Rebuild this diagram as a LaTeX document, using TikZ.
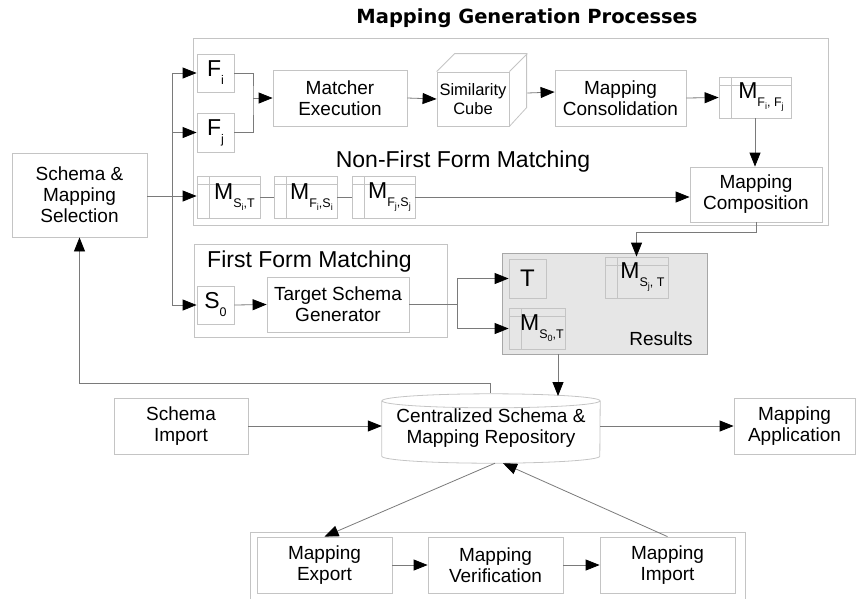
\documentclass[tikz,border=0pt]{standalone}
\usepackage{fontspec}
\setmainfont{Liberation Sans}
\newfontfamily\titlefont{DejaVu Sans}
\usetikzlibrary{arrows.meta}
\definecolor{boxgray}{HTML}{C4C4C4}
\definecolor{linegray}{HTML}{7A7A7A}
\definecolor{resultfill}{HTML}{E6E6E6}
\def\lowsub#1{\raisebox{-8pt}{\fontsize{12.5}{12.5}\selectfont #1}}
\def\lowsubb#1{\raisebox{-3pt}{\fontsize{9}{9}\selectfont #1}}

\begin{document}
\begin{tikzpicture}[x=1pt, y=-1pt,
    box/.style={draw=boxgray, line width=0.8pt, inner sep=0pt, align=center, font=\fontsize{19}{21}\selectfont},
    big/.style={font=\fontsize{23}{25}\selectfont},
    group/.style={draw=boxgray, line width=0.8pt},
    link/.style={draw=linegray, line width=0.8pt},
    arrow/.style={link, -{Triangle[length=14pt,width=11pt,color=black]}},
    mtab/.style={box, path picture={
        \draw[boxgray, line width=0.8pt] ([yshift=-8pt]path picture bounding box.north west) -- ([yshift=-8pt]path picture bounding box.north east);
        \draw[boxgray, line width=0.8pt] ([xshift=12pt]path picture bounding box.north west) -- ([xshift=12pt]path picture bounding box.south west);}}]
			%%%%% START %%%%%
			
			\useasboundingbox (0,0) rectangle (856,598);
			
			% mapping generation
			\node[font=\titlefont\bfseries\fontsize{19.5}{21}\selectfont] (title) at (527,18) {Mapping Generation Processes};
			\draw[group] (193,38) rectangle (828,225);
			
			\node[box, big, minimum width=37pt, minimum height=38pt] (Fi) at (215.5,73) {F\lowsub{i}};
			\node[box, big, minimum width=37pt, minimum height=39pt] (Fj) at (215.5,132.5) {F\lowsub{j}};
			\node[box, minimum width=134pt, minimum height=56pt] (matcher) at (340,98) {Matcher\\Execution};
			
			\node[box, minimum width=72pt, minimum height=54pt, font=\fontsize{16.5}{18.5}\selectfont] (cube) at (473,99) {Similarity\\Cube};
			\draw[group] (cube.north west) -- ++(18,-18) -- ++(72,0) -- ++(0,54) -- (cube.south east);
			\draw[group] (cube.north east) -- ++(18,-18);
			
			\node[box, minimum width=131pt, minimum height=56pt] (consol) at (620.5,98) {Mapping\\Consolidation};
			\node[mtab, big, minimum width=72pt, minimum height=41pt] (mff) at (755,97.5) {\hspace*{12pt}M\lowsub{F\lowsubb{i}, F\lowsubb{j}}};
			\node[box, minimum width=132pt, minimum height=55pt] (compos) at (756,194.5) {Mapping\\Composition};
			
			\node[font=\fontsize{23}{25}\selectfont] (nonfirst) at (463,162) {Non-First Form Matching};
			\node[mtab, big, minimum width=63pt, minimum height=42pt] (msit) at (228.5,197) {\hspace*{12pt}M\lowsub{S\lowsubb{i},T}};
			\node[mtab, big, minimum width=63pt, minimum height=42pt] (mfisi) at (305.5,197) {\hspace*{12pt}M\lowsub{F\lowsubb{i},S\lowsubb{i}}};
			\node[mtab, big, minimum width=63pt, minimum height=42pt] (mfjsj) at (383.5,197) {\hspace*{12pt}M\lowsub{F\lowsubb{j},S\lowsubb{j}}};
			
			\node[box, minimum width=135pt, minimum height=84pt] (sel) at (79.5,195) {Schema \&\\Mapping\\Selection};
			
			% first form
			\draw[group] (194,244) rectangle (447,337);
			\node[font=\fontsize{23}{25}\selectfont, anchor=west, inner sep=0pt] (firstform) at (207,262) {First Form Matching};
			\node[box, big, minimum width=37pt, minimum height=38pt] (s0) at (215.5,305) {S\lowsub{0}};
			\node[box, minimum width=142pt, minimum height=55pt] (tsg) at (338,304.5) {Target Schema\\Generator};
			
			% results
			\node[draw=boxgray!85!black, fill=resultfill, line width=0.8pt, minimum width=205pt, minimum height=101pt] (results) at (604.5,303.5) {};
			\node[font=\fontsize{19}{21}\selectfont] (reslabel) at (661,339) {Results};
			\node[box, font=\fontsize{24}{26}\selectfont, minimum width=37pt, minimum height=39pt] (T) at (527.5,278.5) {T};
			\node[mtab, big, minimum width=63pt, minimum height=41pt] (msjt) at (636.5,277.5) {\hspace*{12pt}M\lowsub{S\lowsubb{j}, T}};
			\node[mtab, big, minimum width=56pt, minimum height=41pt] (ms0t) at (537,328.5) {\hspace*{10pt}M\lowsub{S\lowsubb{0},T}};
			
			% repository
			\node[font=\fontsize{19}{21}\selectfont, align=center, minimum width=218pt, minimum height=69pt, inner sep=0pt] (repo) at (491,428.5) {Centralized Schema \&\\Mapping Repository};
			\draw[group] ([yshift=-7pt]repo.north) ellipse [x radius=109pt, y radius=7pt];
			\draw[group] ([yshift=-7pt]repo.north west) -- ([yshift=7pt]repo.south west) arc [start angle=180, end angle=360, x radius=109pt, y radius=7pt] -- ([yshift=-7pt]repo.north east);
			
			\node[box, minimum width=134pt, minimum height=56pt] (simport) at (181,426) {Schema\\Import};
			\node[box, minimum width=121pt, minimum height=56pt] (mapapp) at (794.5,426) {Mapping\\Application};
			
			\draw[group] (250,532) rectangle (745,610);
			\node[box, minimum width=135pt, minimum height=56pt] (export) at (324.5,565) {Mapping\\Export};
			\node[box, minimum width=135pt, minimum height=56pt] (verif) at (495.5,565) {Mapping\\Verification};
			\node[box, minimum width=135pt, minimum height=56pt] (mimport) at (667.5,565) {Mapping\\Import};
			
			% connectors
			\coordinate (split) at (172,196);
			\draw[link] (sel.east |- split) -- (split);
			\draw[arrow] (split) |- (Fi.west);
			\draw[arrow] (split) |- (Fj.west);
			\draw[arrow] (split) -- (msit.west |- split);
			\draw[arrow] (split) |- (s0.west);
			
			\coordinate (merge) at (253,98);
			\draw[link] (Fi.east) -| (merge) |- (Fj.east);
			\draw[arrow] (merge) -- (matcher.west);
			\draw[arrow] (matcher.east) -- (cube.west);
			\draw[arrow] ([xshift=18pt,yshift=6pt]cube.east) -- ([yshift=6pt]consol.west);
			\draw[arrow] (consol.east) -- (mff.west);
			\draw[arrow] (mff.south) -- (mff.south |- compos.north);
			
			\draw[link] (msit.east) -- (mfisi.west);
			\draw[link] (mfisi.east) -- (mfjsj.west);
			\draw[arrow] (mfjsj.east) -- (compos.west |- mfjsj.east);
			\draw[arrow] (compos.south) -- ++(0,10) -| (msjt.north);
			
			\draw[arrow] (s0.east) -- (tsg.west);
			\coordinate (fork) at (457,304.5);
			\draw[link] (tsg.east) -- (fork);
			\draw[arrow] (fork) |- (T.west);
			\draw[arrow] (fork) |- (ms0t.west);
			
			\coordinate (repoin) at (558,396);
			\coordinate (repoout) at (490,393);
			\draw[arrow] (results.south -| repoin) -- (repoin);
			\draw[arrow] (repoout) -- ++(0,-10) -| (sel.south);
			
			\draw[arrow] (simport.east) -- (simport.east -| repo.west);
			\draw[arrow] (repo.east |- mapapp.west) -- (mapapp.west);
			\draw[arrow] ([xshift=4pt]repo.south) -- (export.north);
			\draw[arrow] (mimport.north) -- ([xshift=12pt]repo.south);
			\draw[arrow] (export) -- (verif);
			\draw[arrow] (verif) -- (mimport);
			
			%%%%% END %%%%%
\end{tikzpicture}
\end{document}
